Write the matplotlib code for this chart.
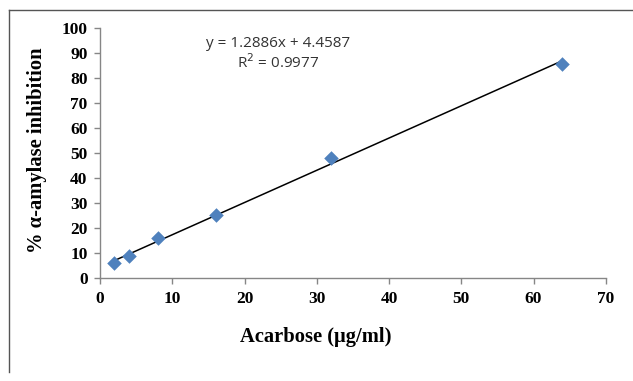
import matplotlib
matplotlib.use("Agg")
import matplotlib.pyplot as plt
from matplotlib.lines import Line2D
import numpy as np

# data
conc = [2, 4, 8, 16, 32, 64]
inhibition = [6.0, 9.0, 16.0, 25.3, 48.0, 85.6]
slope = 1.2886
intercept = 4.4587
r2 = 0.9977

AXIS = "#868686"
MARKER = "#4F81BD"

fig = plt.figure(figsize=(6.33, 3.81), dpi=100)
ax = fig.add_axes([0.158, 0.270, 0.799, 0.6565])

ax.scatter(conc, inhibition, marker="D", s=55, color=MARKER, zorder=3, linewidths=0)
xs = np.array([min(conc), max(conc)])
ax.plot(xs, slope * xs + intercept, color="black", lw=1.1, zorder=2)

ax.set_xlim(0, 70)
ax.set_ylim(0, 100)
ax.set_xticks(range(0, 71, 10))
ax.set_yticks(range(0, 101, 10))

for side in ("top", "right"):
    ax.spines[side].set_visible(False)
for side in ("left", "bottom"):
    ax.spines[side].set_color(AXIS)
    ax.spines[side].set_linewidth(1.0)
ax.tick_params(direction="out", length=4, color=AXIS, width=1.0, pad=5)
for lbl in ax.get_xticklabels() + ax.get_yticklabels():
    lbl.set_fontfamily("Liberation Serif")
    lbl.set_fontweight("bold")
    lbl.set_fontsize(12.5)

fig.text(316 / 633, 1 - 337 / 381, "Acarbose (\u00b5g/ml)", fontfamily="Liberation Serif",
         fontweight="bold", fontsize=14.8, ha="center", va="center")
fig.text(37 / 633, 1 - 150 / 381, "% \u03b1-amylase inhibition", fontfamily="Liberation Serif",
         fontweight="bold", fontsize=14.8, ha="center", va="center", rotation=90)

ax.text(24.6, 94, f"y = {slope}x + {intercept}", fontfamily="Open Sans",
        fontsize=11, ha="center", va="center", color="#333333")
ax.text(24.6, 86.2, f"R$^2$ = {r2}", fontfamily="Open Sans",
        fontsize=11, ha="center", va="center", color="#333333")

# chart border (cropped: only top and left edges visible)
fig.add_artist(Line2D([9 / 633, 1.0], [1 - 10 / 381, 1 - 10 / 381],
                      color="#555555", lw=1.0, transform=fig.transFigure))
fig.add_artist(Line2D([9 / 633, 9 / 633], [1 - 10 / 381, 1 - 372 / 381],
                      color="#555555", lw=1.0, transform=fig.transFigure))

fig.savefig("out.png", dpi=100)
